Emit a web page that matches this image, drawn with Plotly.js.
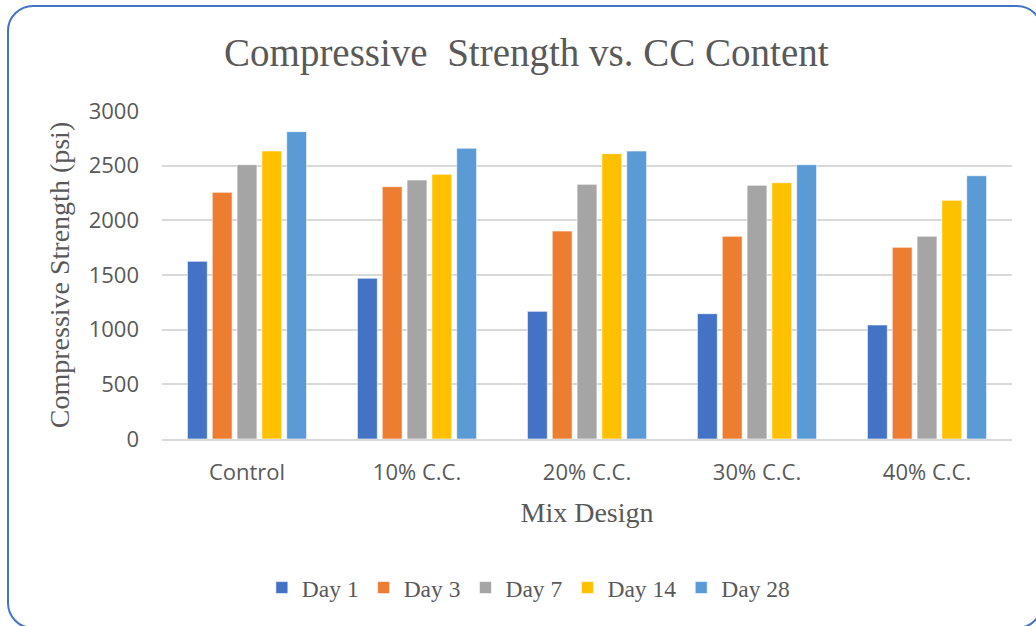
<!DOCTYPE html>
<html>
<head>
<meta charset="utf-8">
<script src="https://cdn.plot.ly/plotly-3.0.1.min.js"></script>
<style>
  html, body { margin: 0; padding: 0; background: #fff; overflow: hidden; }
  #chart { position: absolute; left: 0; top: 0; width: 1036px; height: 626px; }
  #frame { position: absolute; left: 7px; top: 5px; width: 1036px; height: 624px;
           border: 2.5px solid #4472C4; border-radius: 26px; pointer-events: none; box-sizing: border-box; }
</style>
</head>
<body>
<div id="chart"></div>
<div id="frame"></div>
<script>
const categories = ["Control", "10% C.C.", "20% C.C.", "30% C.C.", "40% C.C."];
const seriesNames = ["Day 1", "Day 3", "Day 7", "Day 14", "Day 28"];
const day1  = [1625, 1470, 1168, 1146, 1043];
const day3  = [2256, 2308, 1902, 1854, 1753];
const day7  = [2509, 2369, 2329, 2320, 1854];
const day14 = [2634, 2421, 2610, 2344, 2183];
const day28 = [2811, 2659, 2634, 2509, 2408];
const yTicks = [0, 500, 1000, 1500, 2000, 2500, 3000];

const values = [day1, day3, day7, day14, day28];
const colors = ["#4472C4", "#ED7D31", "#A5A5A5", "#FFC000", "#5B9BD5"];

const traces = seriesNames.map((name, i) => ({
  type: "bar",
  name: name,
  x: categories,
  y: values[i],
  marker: { color: colors[i], line: { color: "rgba(255,255,255,0.6)", width: 1 } },
  hoverinfo: "x+y+name"
}));

const textColor = "#595959";
const serif = "Liberation Serif, Times New Roman, serif";
const sans = "Open Sans, sans-serif";

const layout = {
  width: 1036,
  height: 626,
  margin: { l: 162, r: 24, t: 111, b: 187, pad: 0 },
  paper_bgcolor: "#ffffff",
  plot_bgcolor: "#ffffff",
  title: {
    text: "Compressive&nbsp; Strength vs. CC Content",
    font: { family: serif, size: 39, color: textColor },
    x: 0.508, xref: "container", xanchor: "center",
    y: 0.917, yref: "container", yanchor: "middle"
  },
  xaxis: {
    type: "category",
    showgrid: false,
    showline: true,
    linecolor: "#D9D9D9",
    linewidth: 2,
    ticks: "",
    ticklabelstandoff: 13,
    tickfont: { family: sans, size: 22, color: textColor },
    title: { text: "Mix Design", font: { family: serif, size: 28, color: textColor }, standoff: 17 },
    automargin: false
  },
  yaxis: {
    range: [0, 3000],
    tickvals: yTicks,
    ticktext: yTicks.map(String),
    showgrid: true,
    gridcolor: "#D9D9D9",
    gridwidth: 2,
    zeroline: false,
    showline: false,
    ticks: "",
    ticklabelstandoff: 22,
    tickfont: { family: sans, size: 22, color: textColor },
    title: { text: "Compressive Strength (psi)", font: { family: serif, size: 28, color: textColor }, standoff: 10 },
    automargin: false
  },
  bargap: 0.27,
  bargroupgap: 0.2,
  barmode: "group",
  showlegend: true,
  legend: {
    orientation: "h",
    xref: "container", x: 0.51, xanchor: "center",
    yref: "container", y: 0.061, yanchor: "middle",
    font: { family: serif, size: 23.5, color: textColor },
    itemwidth: 30,
    traceorder: "normal",
    bgcolor: "rgba(0,0,0,0)"
  }
};

Plotly.newPlot("chart", traces, layout, { displayModeBar: false, staticPlot: true });
</script>
</body>
</html>
